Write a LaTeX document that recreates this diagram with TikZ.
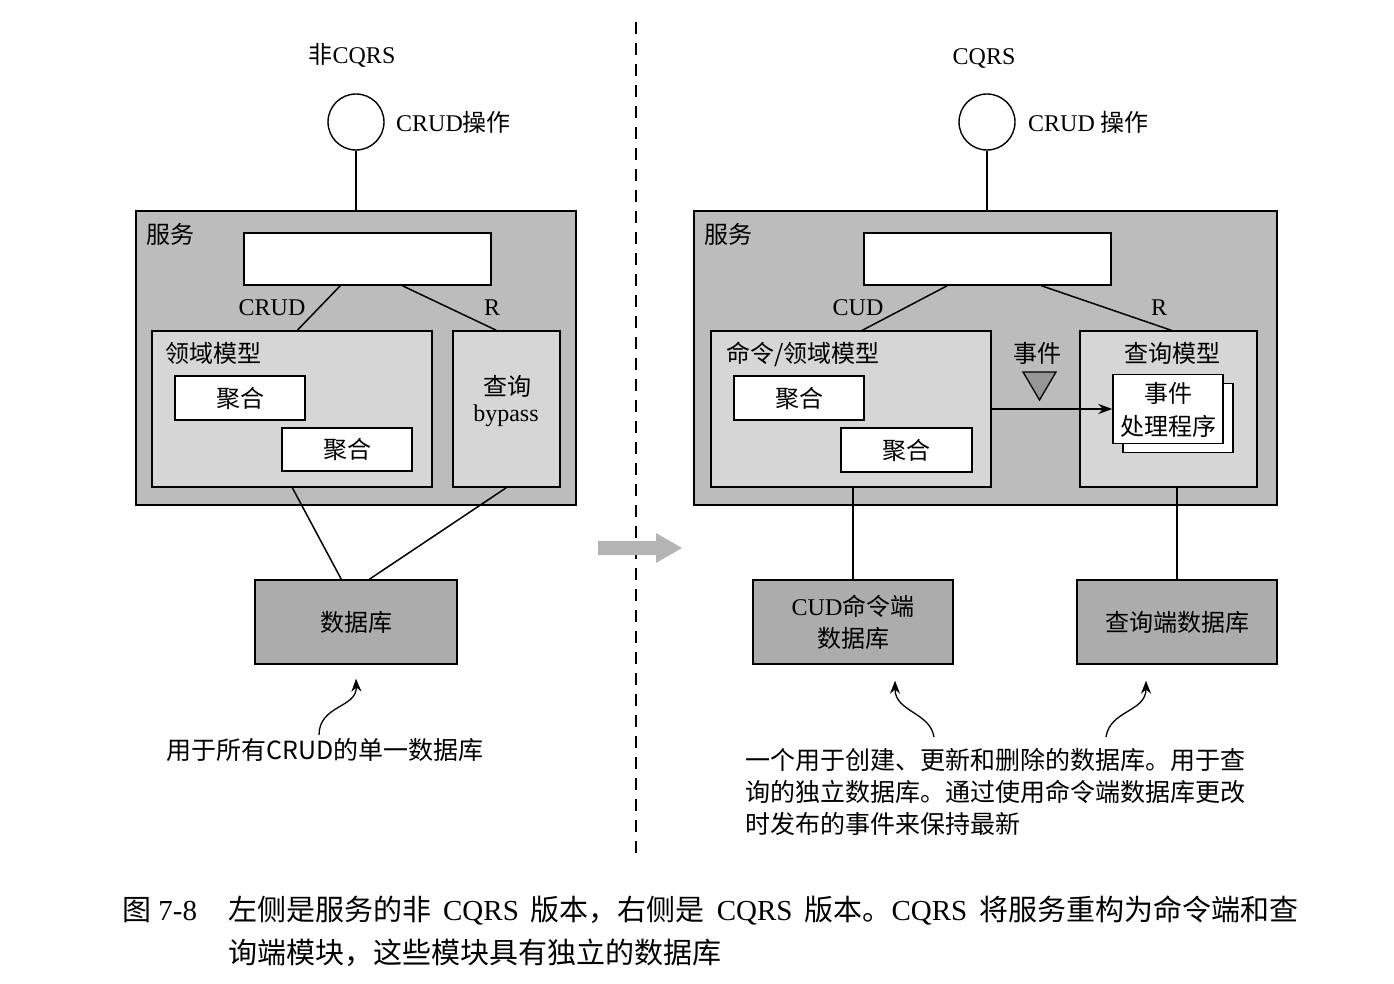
\documentclass[tikz,border=0pt]{standalone}
\usepackage{fontspec}
\setmainfont{Liberation Serif}
\newfontfamily\cjk{Noto Sans CJK SC}
\usetikzlibrary{arrows.meta}
\definecolor{svcgray}{RGB}{188,188,188}
\definecolor{modgray}{RGB}{214,214,214}
\definecolor{dbgray}{RGB}{172,172,172}
\definecolor{bigarrow}{RGB}{180,180,180}
\definecolor{evtgray}{RGB}{150,150,150}

\begin{document}
\begin{tikzpicture}[
  x=1pt,y=-1pt,
  box/.style={draw,line width=1.4pt,inner sep=0pt},
  lbl/.style={inner sep=0pt,font=\fontsize{24}{28}\selectfont},
  link/.style={line width=1.5pt},
  note/.style={-{Stealth[length=13pt,width=10pt]},line width=1.3pt},
  notetext/.style={inner sep=0pt,font=\cjk\fontsize{25}{30}\selectfont},
  capt/.style={inner sep=0pt,font=\fontsize{29}{32}\selectfont}
]
\useasboundingbox (0,0) rectangle (1394,984);

% separator and transition arrow
\draw[line width=1.5pt,dash pattern=on 12pt off 9pt] (636,22) -- (636,855);
\fill[bigarrow] (598,541) -- (656,541) -- (656,533) -- (682,548) -- (656,563) -- (656,555) -- (598,555) -- cycle;

% left: non-CQRS
\node[lbl] (ltitle) at (352,55) {{\cjk 非}CQRS};
\node[box,circle,minimum size=56pt,fill=white] (lop) at (356,122) {};
\node[lbl,anchor=west] (loplbl) at (396,122) {CRUD{\cjk 操作}};
\node[box,fill=svcgray,minimum width=440pt,minimum height=294pt] (lsvc) at (356,358) {};
\node[lbl,anchor=west] (lsvclbl) at (146,234) {\cjk 服务};
\node[box,fill=white,minimum width=247pt,minimum height=52pt] (lapi) at (367.5,259) {};
\node[box,fill=modgray,minimum width=280pt,minimum height=156pt] (ldom) at (292,409) {};
\node[lbl,anchor=west] (ldomlbl) at (165,353) {\cjk 领域模型};
\node[box,fill=white,minimum width=130pt,minimum height=44pt,lbl] (lagg1) at (240,398) {\cjk 聚合};
\node[box,fill=white,minimum width=130pt,minimum height=43pt,lbl] (lagg2) at (347,449.5) {\cjk 聚合};
\node[box,fill=modgray,minimum width=107pt,minimum height=156pt] (lqry) at (506.5,409) {};
\node[lbl] (lqrylbl) at (507,386) {\cjk 查询};
\node[lbl] (lbypass) at (506,416) {bypass};
\node[box,fill=dbgray,minimum width=202pt,minimum height=84pt,lbl] (ldb) at (356,622) {\cjk 数据库};
\node[lbl] (lcrud) at (272,308) {CRUD};
\node[lbl] (lr) at (492,308) {R};
\draw[link] (lop) -- (lsvc.north);
\draw[link] ([xshift=97pt]lapi.south west) -- ([xshift=146pt]ldom.north west);
\draw[link] ([xshift=159pt]lapi.south west) -- ([xshift=44pt]lqry.north west);
\draw[link] ([xshift=141pt]ldom.south west) -- ([xshift=87pt]ldb.north west);
\draw[link] ([xshift=54pt]lqry.south west) -- ([xshift=115pt]ldb.north west);
\node[notetext] (lnote) at (325,750) {用于所有CRUD的单一数据库};
\coordinate (lnotetail) at (319,735);
\draw[note] (lnotetail) .. controls (319,705) and (357,708) .. ([yshift=-14pt]ldb.south);

% right: CQRS
\node[lbl] (rtitle) at (984,56) {{\cjk\vphantom{非}}CQRS};
\node[box,circle,minimum size=56pt,fill=white] (rop) at (987,122) {};
\node[lbl,anchor=west] (roplbl) at (1028,122) {CRUD {\cjk 操作}};
\node[box,fill=svcgray,minimum width=583pt,minimum height=294pt] (rsvc) at (985.5,358) {};
\node[lbl,anchor=west] (rsvclbl) at (704,234) {\cjk 服务};
\node[box,fill=white,minimum width=247pt,minimum height=52pt] (rapi) at (987.5,259) {};
\node[box,fill=modgray,minimum width=280pt,minimum height=156pt] (rcmd) at (851,409) {};
\node[lbl,anchor=west] (rcmdlbl) at (726,354) {\cjk 命令/领域模型};
\node[box,fill=white,minimum width=130pt,minimum height=44pt,lbl] (ragg1) at (799,398) {\cjk 聚合};
\node[box,fill=white,minimum width=131pt,minimum height=44pt,lbl] (ragg2) at (906.5,450) {\cjk 聚合};
\node[box,fill=modgray,minimum width=177pt,minimum height=156pt] (rqry) at (1168.5,409) {};
\node[lbl] (rqrylbl) at (1172,353) {\cjk 查询模型};
\node[box,fill=white,minimum width=110pt,minimum height=69pt] (rhndback) at (1178,418) {};
\node[box,fill=white,minimum width=110pt,minimum height=69pt] (rhnd) at (1168,409) {};
\node[lbl] (rhndlbl1) at (1168,393) {\cjk 事件};
\node[lbl] (rhndlbl2) at (1168,426) {\cjk 处理程序};
\node[lbl] (revt) at (1037,353) {\cjk 事件};
\draw[line width=1.3pt,fill=evtgray] (1023,372) -- (1056,372) -- (1039.5,400) -- cycle;
\draw[link,-{Stealth[length=14pt,width=10pt]}] (rcmd.east) -- (rhnd.west);
\node[lbl] (rcud) at (858,308) {CUD};
\node[lbl] (rr) at (1159,308) {R};
\node[box,fill=dbgray,minimum width=200pt,minimum height=84pt,lbl,align=center] (rcdb) at (853,622) {CUD{\cjk 命令端}\\[4pt]{\cjk 数据库}};
\node[box,fill=dbgray,minimum width=200pt,minimum height=84pt,lbl] (rqdb) at (1177,622) {\cjk 查询端数据库};
\draw[link] (rop) -- (rsvc.north -| rop);
\draw[link] ([xshift=84pt]rapi.south west) -- ([xshift=152pt]rcmd.north west);
\draw[link] ([xshift=178pt]rapi.south west) -- ([xshift=92pt]rqry.north west);
\draw[link] (rcdb.north |- rcmd.south) -- (rcdb.north);
\draw[link] (rqdb.north |- rqry.south) -- (rqdb.north);
\node[notetext,anchor=west] (rnote1) at (745,760) {一个用于创建、更新和删除的数据库。用于查};
\node[notetext,anchor=west] (rnote2) at (745,792) {询的独立数据库。通过使用命令端数据库更改};
\node[notetext,anchor=west] (rnote3) at (745,824) {时发布的事件来保持最新};
\coordinate (rnotetail1) at (934,737);
\coordinate (rnotetail2) at (1106,737);
\draw[note] (rnotetail1) .. controls (930,712) and (895,712) .. ([xshift=42pt,yshift=-16pt]rcdb.south);
\draw[note] (rnotetail2) .. controls (1110,710) and (1146,712) .. ([xshift=-31pt,yshift=-16pt]rqdb.south);

% caption
\node[capt,anchor=west] (capnum) at (122,910) {{\cjk 图} 7-8};
\node[capt,anchor=west] (cap1) at (228,910) {\makebox[1070pt][s]{{\cjk 左侧是服务的非} CQRS {\cjk 版本，右侧是} CQRS {\cjk 版本。}CQRS {\cjk 将服务重构为命令端和查}}};
\node[capt,anchor=west] (cap2) at (228,953) {\cjk 询端模块，这些模块具有独立的数据库};
\end{tikzpicture}
\end{document}
